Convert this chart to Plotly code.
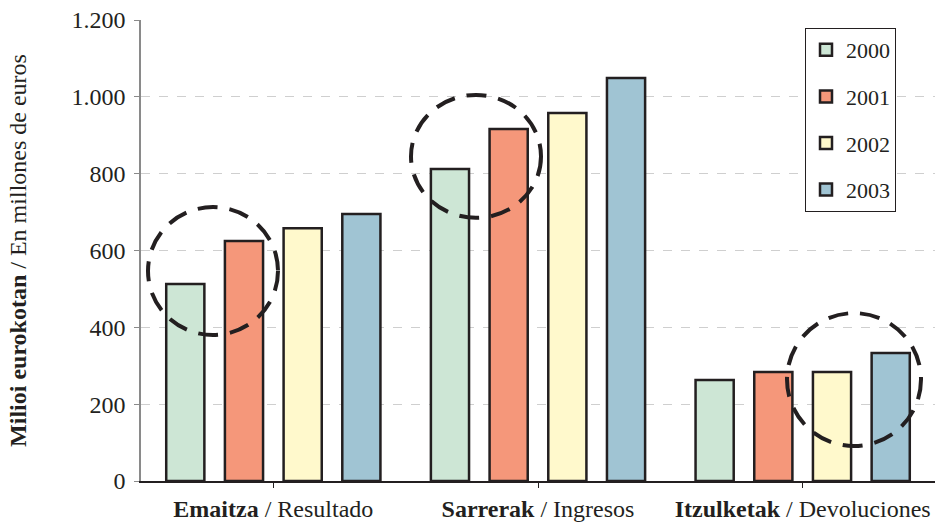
import plotly.graph_objects as go

categories = ["<b>Emaitza</b> / Resultado", "<b>Sarrerak</b> / Ingresos", "<b>Itzulketak</b> / Devoluciones"]
years = ["2000", "2001", "2002", "2003"]
values = {
    "2000": [513, 812, 263],
    "2001": [625, 916, 284],
    "2002": [658, 958, 284],
    "2003": [695, 1049, 333],
}
colors = {"2000": "#cde6d5", "2001": "#f5977a", "2002": "#fff9cc", "2003": "#a0c4d3"}
ytick_vals = [0, 200, 400, 600, 800, 1000, 1200]

FONT = "Liberation Serif"
fig = go.Figure()
for i, y in enumerate(years):
    fig.add_trace(go.Bar(
        x=list(range(len(categories))), y=values[y], name=y,
        legendgroup=y,
        marker=dict(color=colors[y], line=dict(color="#231f20", width=2.5)),
    ))

# dashed highlight ellipses (paper x, data y)
def px2paper(px):
    return (px - 141) / 794.0

ellipses = [
    (148, 278, 380, 713),
    (411, 541, 685, 1005),
    (787, 921, 91, 437),
]
for x0, x1, y0, y1 in ellipses:
    fig.add_shape(type="circle", xref="paper", yref="y",
                  x0=px2paper(x0), x1=px2paper(x1), y0=y0, y1=y1,
                  line=dict(color="#231f20", width=4, dash="20px,12px"))

fig.update_layout(
    width=935, height=523,
    margin=dict(l=141, r=0, t=20, b=42),
    paper_bgcolor="white", plot_bgcolor="white",
    barmode="group", bargap=0.113, bargroupgap=0.35,
    separators=",.",
    font=dict(family=FONT, color="#231f20", size=22),
    legend=dict(
        x=px2paper(805), y=(481 - 28) / 461.0, xanchor="left", yanchor="top",
        bordercolor="#231f20", borderwidth=1, bgcolor="white",
        font=dict(size=22, family=FONT), traceorder="grouped", tracegroupgap=15,
    ),
    showlegend=True,
)
fig.update_xaxes(
    tickvals=list(range(len(categories))), ticktext=categories,
    range=[-0.5, 2.5], automargin=False,
    showline=True, linecolor="#231f20", linewidth=1.5,
    ticks="outside", tickson="boundaries", ticklen=5, tickcolor="#231f20",
    tickfont=dict(size=24, family=FONT), ticklabelstandoff=0,
    showgrid=False,
)
fig.update_yaxes(
    range=[0, 1200], tickvals=ytick_vals, tickformat=",d", automargin=False,
    showline=True, linecolor="#8a8a8a", linewidth=1.5,
    ticks="outside", ticklen=5, tickcolor="#8a8a8a",
    tickfont=dict(size=24, family=FONT), ticklabelstandoff=4,
    showgrid=True, gridcolor="#cfcfcf", griddash="dash", gridwidth=1,
    zeroline=False,
    title=dict(text="<b>Milioi eurokotan</b> / En millones de euros", font=dict(size=24, family=FONT), standoff=38),
)

fig.write_html("out.html", config={"displayModeBar": False},
               post_script="document.body.style.margin='0';document.body.style.overflow='hidden';")
